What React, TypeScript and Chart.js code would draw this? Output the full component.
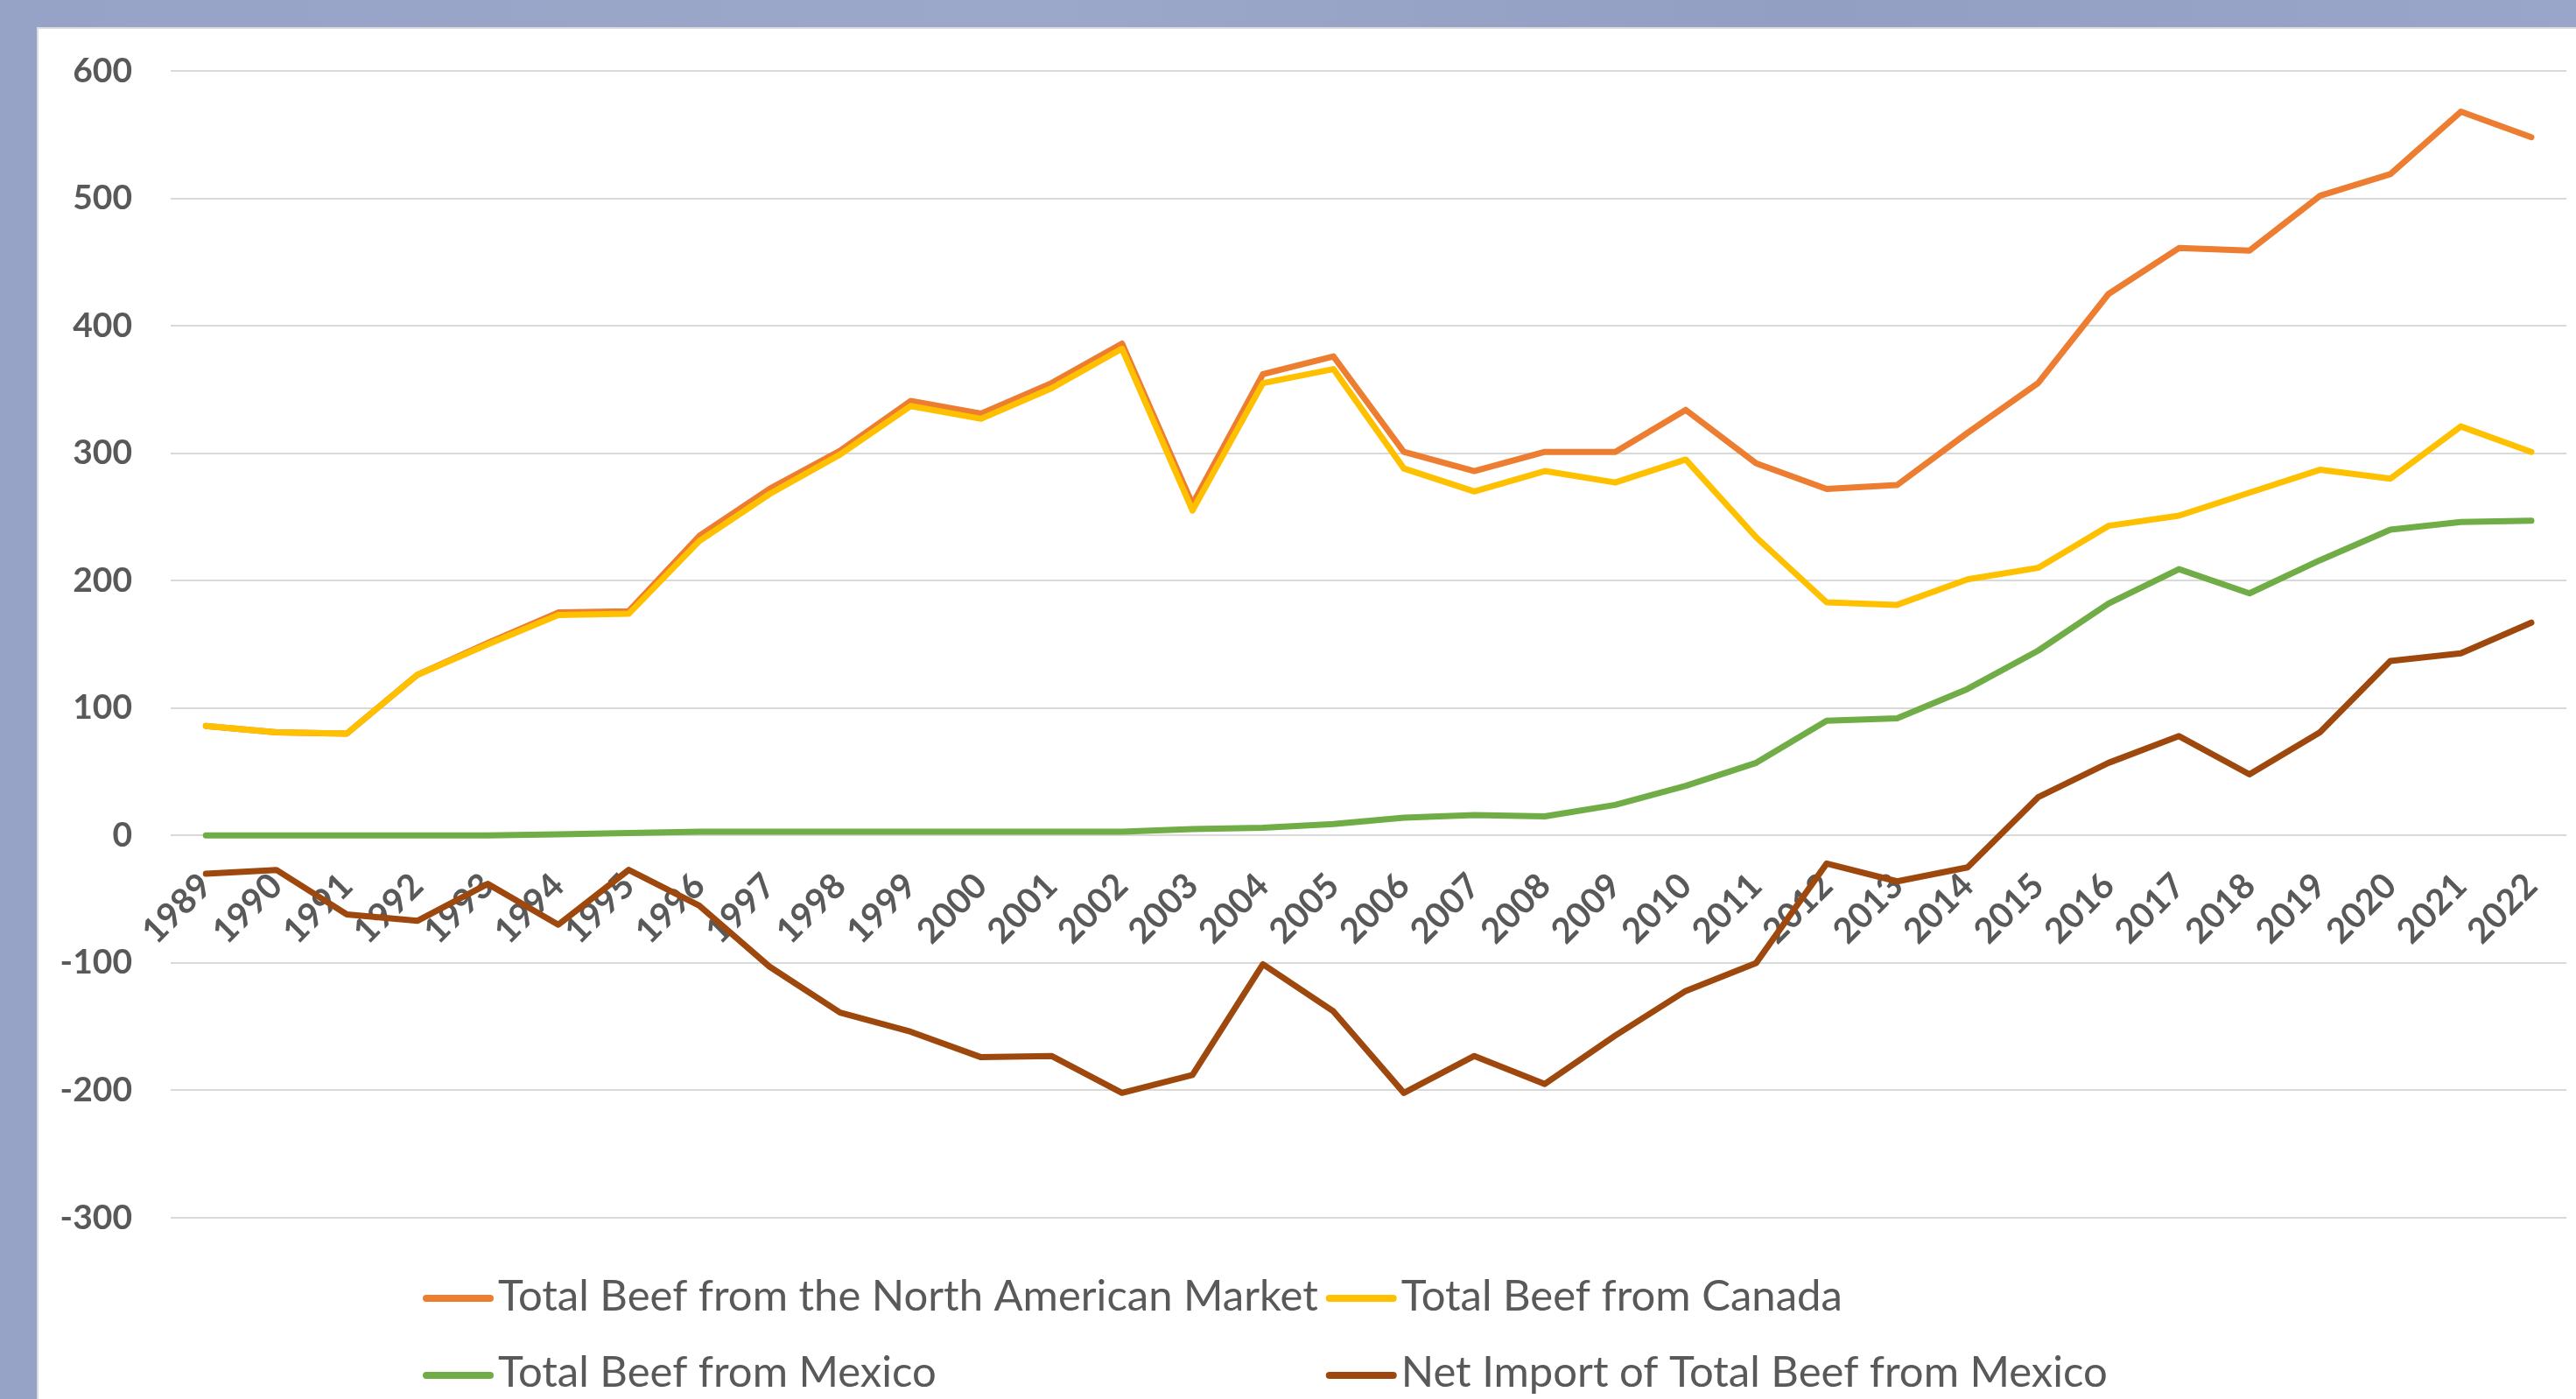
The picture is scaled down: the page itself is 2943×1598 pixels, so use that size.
import React, { useEffect, useRef } from 'react';
import { Chart, registerables } from 'chart.js';

Chart.register(...registerables);

const years = [
  '1989', '1990', '1991', '1992', '1993', '1994', '1995', '1996', '1997', '1998', '1999',
  '2000', '2001', '2002', '2003', '2004', '2005', '2006', '2007', '2008', '2009', '2010',
  '2011', '2012', '2013', '2014', '2015', '2016', '2017', '2018', '2019', '2020', '2021', '2022',
];

const northAmericanMarket = [
  86, 81, 80, 126, 151, 175, 176, 235, 272, 302, 341, 331, 355, 386,
  260, 362, 376, 301, 286, 301, 301, 334, 292, 272, 275, 316, 355, 425, 461, 459, 502, 519, 568, 548,
];
const canada = [
  86, 81, 80, 126, 150, 173, 174, 231, 268, 299, 337, 327, 351, 382,
  255, 355, 366, 288, 270, 286, 277, 295, 234, 183, 181, 201, 210, 243, 251, 269, 287, 280, 321, 301,
];
const mexico = [
  0, 0, 0, 0, 0, 1, 2, 3, 3, 3, 3, 3, 3, 3,
  5, 6, 9, 14, 16, 15, 24, 39, 57, 90, 92, 115, 145, 182, 209, 190, 216, 240, 246, 247,
];
const netImportMexico = [
  -30, -27, -62, -67, -38, -70, -27, -55, -103, -139, -154, -174, -173, -202,
  -188, -101, -138, -202, -173, -195, -157, -122, -100, -22, -36, -25, 30, 57, 78, 48, 81, 137, 143, 167,
];

const seriesLabels = [
  'Total Beef from the North American Market',
  'Total Beef from Canada',
  'Total Beef from Mexico',
  'Net Import of Total Beef from Mexico',
];
const seriesColors = ['#ED7D31', '#FFC000', '#70AD47', '#9E480E'];

const yMin = -300;
const yMax = 600;
const yStep = 100;

const TEXT = '#595959';
const FONT = 'Lato, "Open Sans", sans-serif';

const gridLegend = {
  id: 'gridLegend',
  afterDraw(chart: any) {
    const ctx = chart.ctx as CanvasRenderingContext2D;
    const ds = chart.data.datasets;
    ctx.save();
    ctx.font = `49px ${FONT}`;
    const sampleW = 81;
    const gap = 5;
    const colGap = 9;
    const startX = 483;
    const baselines = [1497, 1584];
    const lineY = [1483, 1571];
    const w0 = Math.max(ctx.measureText(ds[0].label).width, ctx.measureText(ds[2].label).width);
    const colX = [startX, startX + sampleW + gap + w0 + colGap];
    ds.forEach((d: any, i: number) => {
      const c = i % 2;
      const r = Math.floor(i / 2);
      const x = colX[c];
      ctx.strokeStyle = d.borderColor;
      ctx.lineWidth = 8;
      ctx.lineCap = 'round';
      ctx.beginPath();
      ctx.moveTo(x + 4, lineY[r]);
      ctx.lineTo(x + sampleW - 4, lineY[r]);
      ctx.stroke();
      ctx.fillStyle = TEXT;
      ctx.textBaseline = 'alphabetic';
      ctx.textAlign = 'left';
      ctx.fillText(d.label, x + sampleW + gap, baselines[r]);
    });
    ctx.restore();
  },
};

export default function App() {
  const ref = useRef<HTMLCanvasElement | null>(null);

  useEffect(() => {
    if (!ref.current) return;
    const series = [northAmericanMarket, canada, mexico, netImportMexico];
    const chart = new Chart(ref.current, {
      type: 'line',
      data: {
        labels: years,
        datasets: series.map((data, i) => ({
          label: seriesLabels[i],
          data,
          borderColor: seriesColors[i],
          backgroundColor: seriesColors[i],
          borderWidth: 7,
          pointRadius: 0,
          pointHoverRadius: 0,
          tension: 0,
          fill: false,
          borderCapStyle: 'round' as const,
          borderJoinStyle: 'round' as const,
          order: 3 - i,
        })),
      },
      options: {
        responsive: false,
        animation: false,
        devicePixelRatio: 1,
        layout: { padding: { top: 81, bottom: 207, left: 0, right: 6 } },
        plugins: {
          legend: { display: false },
          tooltip: { enabled: false },
          title: { display: false },
        },
        scales: {
          x: {
            type: 'category',
            offset: true,
            position: { y: 0 } as any,
            grid: { display: false, drawTicks: false, tickLength: 0 },
            border: { display: false },
            ticks: {
              autoSkip: false,
              maxRotation: 45,
              minRotation: 45,
              padding: 34,
              color: TEXT,
              font: { family: FONT, weight: 'bold', size: 40 },
            },
          },
          y: {
            min: yMin,
            max: yMax,
            afterFit: (s: any) => {
              s.width = 195;
            },
            ticks: {
              stepSize: yStep,
              padding: 44,
              color: TEXT,
              font: { family: FONT, weight: 'bold', size: 39 },
            },
            grid: { color: '#D9D9D9', lineWidth: 2, drawTicks: false },
            border: { display: false },
          },
        },
      },
      plugins: [gridLegend],
    });
    return () => chart.destroy();
  }, []);

  return (
    <div
      style={{
        position: 'fixed',
        left: 0,
        top: 0,
        width: 2943,
        height: 1598,
        overflow: 'hidden',
        background: 'linear-gradient(90deg, #97A3C6 0%, #9CA8CA 40%, #939FC2 70%, #9AA6C9 100%)',
      }}
    >
      <div
        style={{
          position: 'absolute',
          left: 42,
          top: 31,
          right: 0,
          bottom: 0,
          background: '#FFFFFF',
          borderLeft: '2px solid #DCDCDC',
          borderTop: '2px solid #DCDCDC',
        }}
      />
      <canvas
        ref={ref}
        width={2960}
        height={1598}
        style={{ position: 'absolute', left: 0, top: 0, width: 2960, height: 1598 }}
      />
    </div>
  );
}
